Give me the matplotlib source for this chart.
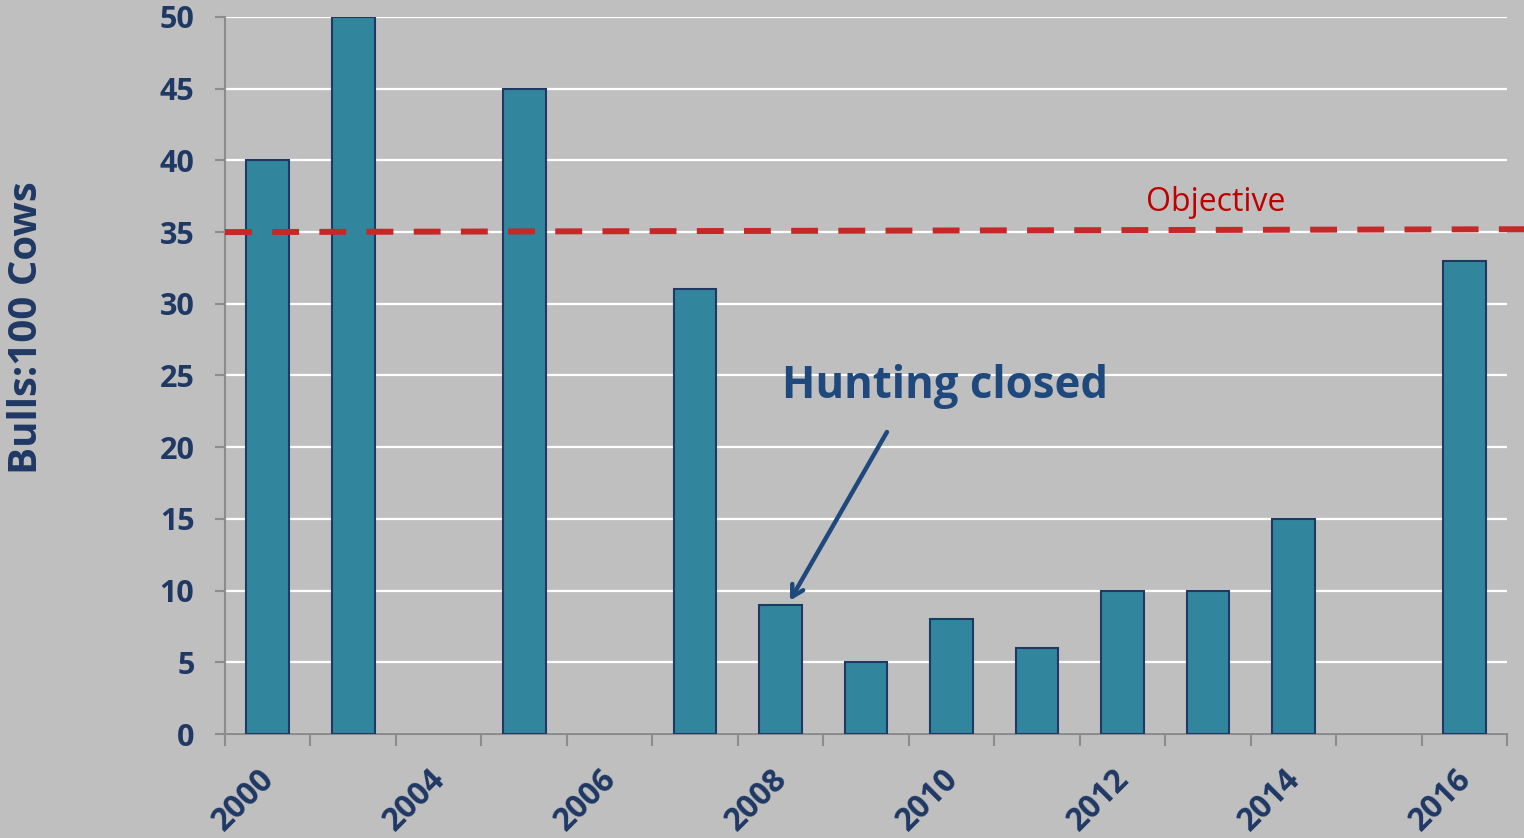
import numpy as np
import matplotlib
matplotlib.use("Agg")
import matplotlib.pyplot as plt
from matplotlib.transforms import ScaledTranslation

# ---- data ----
years = ["2000", "2002", "2004", "2005", "2006", "2007", "2008", "2009",
         "2010", "2011", "2012", "2013", "2014", "2015", "2016"]
tick_labels = ["2000", "", "2004", "", "2006", "", "2008", "",
               "2010", "", "2012", "", "2014", "", "2016"]
ratio = [40, 50, np.nan, 45, np.nan, 31, 9, 5, 8, 6, 10, 10, 15, np.nan, 33]
objective = [35.0, 35.2]
y_ticks = [0, 5, 10, 15, 20, 25, 30, 35, 40, 45, 50]

BG = "#bfbfbf"
NAVY = "#1f3864"
BAR = "#31859c"
FONT = "Open Sans"

fig = plt.figure(figsize=(15.24, 8.38), dpi=100, facecolor=BG)
ax = fig.add_axes([225/1524, 1 - 734/838, 1282/1524, 717/838])
ax.set_facecolor(BG)

x = np.arange(len(years))
ax.bar(x, ratio, width=0.5, color=BAR, edgecolor=NAVY, linewidth=1.5, zorder=3)

ax.set_xlim(-0.5, len(years) - 0.5)
ax.set_ylim(0, 50)
ax.set_yticks(y_ticks)
ax.yaxis.grid(True, color="white", linewidth=1.6, zorder=0)
ax.set_axisbelow(True)

for s in ["top", "right"]:
    ax.spines[s].set_visible(False)
for s in ["left", "bottom"]:
    ax.spines[s].set_color("#8c8c8c")
    ax.spines[s].set_linewidth(1.5)

ax.set_xticks(x)
ax.set_xticklabels(tick_labels, rotation=45, ha="right", rotation_mode="anchor",
                   fontsize=23, fontweight="bold", color=NAVY, family=FONT)
ax.tick_params(axis="x", which="major", length=0, pad=16)
off = ScaledTranslation(-10/100, -6/100, fig.dpi_scale_trans)
for lab in ax.get_xticklabels():
    lab.set_transform(lab.get_transform() + off)
ax.set_xticks(np.arange(-0.5, len(years)), minor=True)
ax.tick_params(axis="x", which="minor", length=8.5, width=1.5, color="#8c8c8c")
ax.tick_params(axis="y", length=7, width=1.5, color="#8c8c8c", pad=15,
               labelsize=22, labelcolor=NAVY)
ax.set_yticks(y_ticks)
ax.set_yticklabels([str(v) for v in y_ticks], fontsize=22, fontweight="bold",
                   color=NAVY, family=FONT)

fig.text(27/1524, 1 - 328/838, "Bulls:100 Cows", rotation=90, ha="center", va="center",
         fontsize=29, fontweight="bold", color=NAVY, family=FONT)

# objective line
ax.plot([-0.5, 14.7], objective, color="#c62828", linewidth=4.3,
        dashes=(4.5, 3.4), clip_on=False, zorder=4)
ax.text(11.09, 37.05, "Objective", color="#c00000", fontsize=23, family=FONT,
        ha="center", va="center")

# annotation
ax.text(7.92, 24.25, "Hunting closed", fontsize=31.5, fontweight="bold",
        color="#1f497d", family=FONT, ha="center", va="center")
ax.annotate("", xy=(6.11, 9.3), xytext=(7.245, 21.06),
            arrowprops=dict(arrowstyle="->,head_length=0.8,head_width=0.45",
                            color="#1f497d", lw=3.2, shrinkA=0, shrinkB=0))

fig.savefig("out.png", dpi=100, facecolor=BG)
